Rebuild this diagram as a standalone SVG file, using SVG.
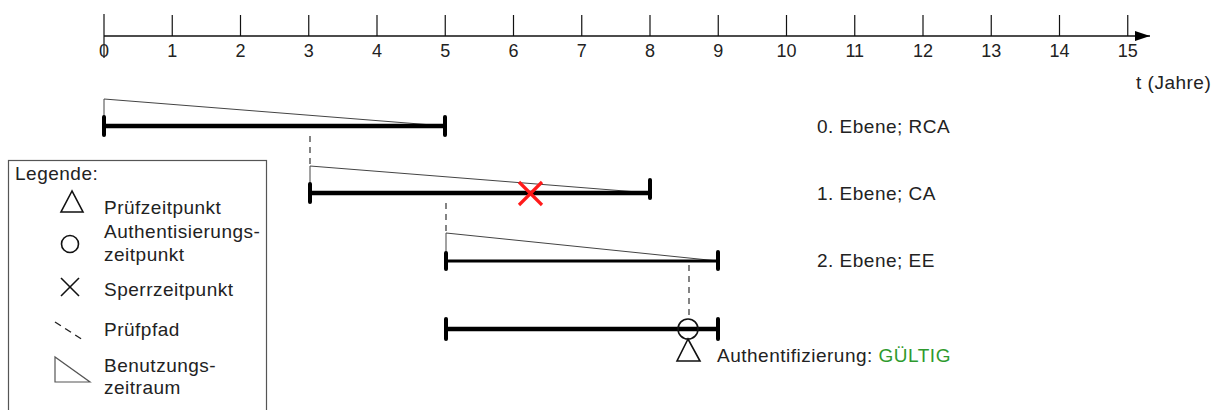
<svg xmlns="http://www.w3.org/2000/svg" width="1218" height="410" viewBox="0 0 1218 410">
<style>
text{font-family:"Liberation Sans",Arial,sans-serif;font-size:19px;fill:#222;letter-spacing:0.5px}
.ax{stroke:#111;stroke-width:1.3;fill:none}
.tick{stroke:#111;stroke-width:1.2}
.num{text-anchor:middle;font-size:18px;letter-spacing:0}
.bar{stroke:#000;stroke-width:4.5;stroke-linecap:butt}
.bar2{stroke:#000;stroke-width:3.2}
.cap{stroke:#000;stroke-width:4;stroke-linecap:round}
.use{stroke:#444;stroke-width:1;fill:none}
.dash{stroke:#333;stroke-width:1.2;stroke-dasharray:6 5;fill:none}
.sym{stroke:#111;stroke-width:1.6;fill:none}
</style>
<defs>
<marker id="arr" markerWidth="16" markerHeight="12" refX="15" refY="5" orient="auto" markerUnits="userSpaceOnUse">
<path d="M0,0 L15,5 L0,10 z" fill="#000"/>
</marker>
</defs>

<g id="axis">
<line class="ax" x1="104" y1="36" x2="1150" y2="36" marker-end="url(#arr)"/>
<line class="tick" x1="104" y1="14" x2="104" y2="58"/>
<line class="tick" x1="172.25" y1="15" x2="172.25" y2="36"/>
<line class="tick" x1="240.5" y1="15" x2="240.5" y2="36"/>
<line class="tick" x1="308.75" y1="15" x2="308.75" y2="36"/>
<line class="tick" x1="377" y1="15" x2="377" y2="36"/>
<line class="tick" x1="445.25" y1="15" x2="445.25" y2="36"/>
<line class="tick" x1="513.5" y1="15" x2="513.5" y2="36"/>
<line class="tick" x1="581.75" y1="15" x2="581.75" y2="36"/>
<line class="tick" x1="650" y1="15" x2="650" y2="36"/>
<line class="tick" x1="718.25" y1="15" x2="718.25" y2="36"/>
<line class="tick" x1="786.5" y1="15" x2="786.5" y2="36"/>
<line class="tick" x1="854.75" y1="15" x2="854.75" y2="36"/>
<line class="tick" x1="923" y1="15" x2="923" y2="36"/>
<line class="tick" x1="991.25" y1="15" x2="991.25" y2="36"/>
<line class="tick" x1="1059.5" y1="15" x2="1059.5" y2="36"/>
<line class="tick" x1="1127.75" y1="15" x2="1127.75" y2="36"/>
<text class="num" x="104" y="57">0</text>
<text class="num" x="172.25" y="57">1</text>
<text class="num" x="240.5" y="57">2</text>
<text class="num" x="308.75" y="57">3</text>
<text class="num" x="377" y="57">4</text>
<text class="num" x="445.25" y="57">5</text>
<text class="num" x="513.5" y="57">6</text>
<text class="num" x="581.75" y="57">7</text>
<text class="num" x="650" y="57">8</text>
<text class="num" x="718.25" y="57">9</text>
<text class="num" x="786.5" y="57">10</text>
<text class="num" x="854.75" y="57">11</text>
<text class="num" x="923" y="57">12</text>
<text class="num" x="991.25" y="57">13</text>
<text class="num" x="1059.5" y="57">14</text>
<text class="num" x="1127.75" y="57">15</text>
<text x="1136" y="89">t (Jahre)</text>
</g>

<g id="level0">
<polyline class="use" points="104,126 104,99 445,126"/>
<line class="bar" x1="104" y1="126" x2="445" y2="126"/>
<line class="cap" x1="104" y1="117" x2="104" y2="135"/>
<line class="cap" x1="445" y1="117" x2="445" y2="135"/>
<text x="817" y="133">0. Ebene; RCA</text>
</g>

<g id="level1">
<polyline class="use" points="310,193 310,166 650,193"/>
<line class="bar" x1="310" y1="193" x2="650" y2="193"/>
<line class="cap" x1="310" y1="184" x2="310" y2="202"/>
<line class="cap" x1="650" y1="180" x2="650" y2="198"/>
<text x="817" y="200">1. Ebene; CA</text>
<g id="revocation" stroke="#ff1a1a" stroke-width="3.2">
<line x1="519" y1="182" x2="542" y2="205"/>
<line x1="542" y1="182" x2="519" y2="205"/>
</g>
</g>

<g id="level2">
<polyline class="use" points="446,261 446,233 718,261"/>
<line class="bar2" x1="446" y1="261" x2="718" y2="261"/>
<line class="cap" x1="446" y1="253" x2="446" y2="269"/>
<line class="cap" x1="718" y1="252" x2="718" y2="269"/>
<text x="817" y="267">2. Ebene; EE</text>
</g>

<g id="validation">
<line class="bar" x1="446" y1="329" x2="718" y2="329"/>
<line class="cap" x1="446" y1="319" x2="446" y2="339"/>
<line class="cap" x1="718" y1="319" x2="718" y2="339"/>
<circle class="sym" cx="688" cy="329" r="10" fill="none"/>
<polygon class="sym" points="688,339 677,361 700,361"/>
<text x="717" y="362">Authentifizierung: <tspan fill="#2e9a2e">GÜLTIG</tspan></text>
</g>

<g id="connectors">
<line class="dash" x1="310" y1="136" x2="310" y2="166"/>
<line class="dash" x1="446" y1="203" x2="446" y2="233"/>
<line class="dash" x1="689" y1="265" x2="689" y2="319"/>
</g>

<g id="legend">
<rect x="8.5" y="160.5" width="258" height="260" fill="none" stroke="#555" stroke-width="1.2"/>
<text x="15" y="180">Legende:</text>
<polygon class="sym" points="72,191 61,212 83,212"/>
<text x="104" y="214">Prüfzeitpunkt</text>
<circle class="sym" cx="70" cy="244" r="8.5"/>
<text x="104" y="238">Authentisierungs-</text>
<text x="104" y="261">zeitpunkt</text>
<line class="sym" x1="61" y1="278" x2="79" y2="296"/>
<line class="sym" x1="79" y1="278" x2="61" y2="296"/>
<text x="104" y="296">Sperrzeitpunkt</text>
<line x1="55" y1="322" x2="83" y2="340" stroke="#222" stroke-width="1.4" stroke-dasharray="7 5"/>
<text x="104" y="336">Prüfpfad</text>
<polygon points="55,357 55,382 90,382" fill="none" stroke="#555" stroke-width="1.2"/>
<text x="104" y="372">Benutzungs-</text>
<text x="104" y="394">zeitraum</text>
</g>
</svg>
